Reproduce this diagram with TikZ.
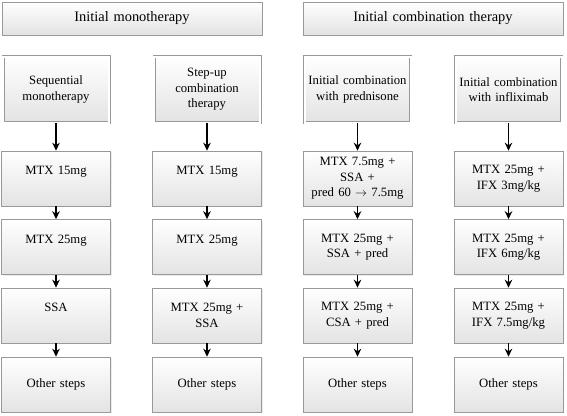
\documentclass[tikz,border=0pt]{standalone}
\usepackage{fontspec}
\setmainfont{Liberation Serif}
\usetikzlibrary{shadows, arrows.meta}

\begin{document}
\begin{tikzpicture}[x=1pt, y=-1pt, >={Stealth[length=8pt, width=7.5pt]},
  box/.style={draw=black!40, line width=0.6pt, top color=white, bottom color=black!11,
    drop shadow={shadow xshift=1.2pt, shadow yshift=-1.2pt, fill=black!15},
    minimum width=109pt, minimum height=55pt, text width=104pt, align=center,
    inner sep=0pt, font=\fontsize{12.7}{15.5}\selectfont},
  headbox/.style={box, minimum width=260pt, minimum height=33pt, text width=250pt,
    font=\fontsize{14.4}{17}\selectfont},
  titlebox/.style={box, line width=0.5pt, minimum width=106pt, minimum height=66pt,
    double=white, double distance=2pt},
  link/.style={->, line width=1.5pt}]
  \useasboundingbox (0,0) rectangle (567,415);
  \node[headbox] (mono) at (132,18.5) {Initial monotherapy};
  \node[headbox] (combo) at (433,18.5) {Initial combination therapy};

  \node[titlebox] (seq) at (56,89.5) {Sequential\\monotherapy};
  \node[box] (seq1) at (56,178.5) {MTX 15mg\\~};
  \node[box] (seq2) at (56,247) {MTX 25mg\\~};
  \node[box] (seq3) at (56,315.5) {SSA\\~};
  \node[box] (seq4) at (56,384.5) {Other steps};

  \node[titlebox] (step) at (207,89.5) {Step-up\\combination\\therapy};
  \node[box] (step1) at (207,178.5) {MTX 15mg\\~};
  \node[box] (step2) at (207,247) {MTX 25mg\\~};
  \node[box] (step3) at (207,315.5) {MTX 25mg +\\SSA};
  \node[box] (step4) at (207,384.5) {Other steps};

  \node[titlebox] (pred) at (357.5,89.5) {Initial combination\\with prednisone};
  \node[box] (pred1) at (357.5,178.5) {MTX 7.5mg +\\SSA +\\pred 60 $\rightarrow$ 7.5mg};
  \node[box] (pred2) at (357.5,247) {MTX 25mg +\\SSA + pred};
  \node[box] (pred3) at (357.5,315.5) {MTX 25mg +\\CSA + pred};
  \node[box] (pred4) at (357.5,384.5) {Other steps};

  \node[titlebox] (ifx) at (508.5,89.5) {Initial combination\\with infliximab};
  \node[box] (ifx1) at (508.5,178.5) {MTX 25mg +\\IFX 3mg/kg};
  \node[box] (ifx2) at (508.5,247) {MTX 25mg +\\IFX 6mg/kg};
  \node[box] (ifx3) at (508.5,315.5) {MTX 25mg +\\IFX 7.5mg/kg};
  \node[box] (ifx4) at (508.5,384.5) {Other steps};

  \draw[link] (seq) -- (seq1);
  \draw[link] (seq1) -- (seq2);
  \draw[link] (seq2) -- (seq3);
  \draw[link] (seq3) -- (seq4);
  \draw[link] (step) -- (step1);
  \draw[link] (step1) -- (step2);
  \draw[link] (step2) -- (step3);
  \draw[link] (step3) -- (step4);
  \draw[link] (pred) -- (pred1);
  \draw[link] (pred1) -- (pred2);
  \draw[link] (pred2) -- (pred3);
  \draw[link] (pred3) -- (pred4);
  \draw[link] (ifx) -- (ifx1);
  \draw[link] (ifx1) -- (ifx2);
  \draw[link] (ifx2) -- (ifx3);
  \draw[link] (ifx3) -- (ifx4);
\end{tikzpicture}
\end{document}
